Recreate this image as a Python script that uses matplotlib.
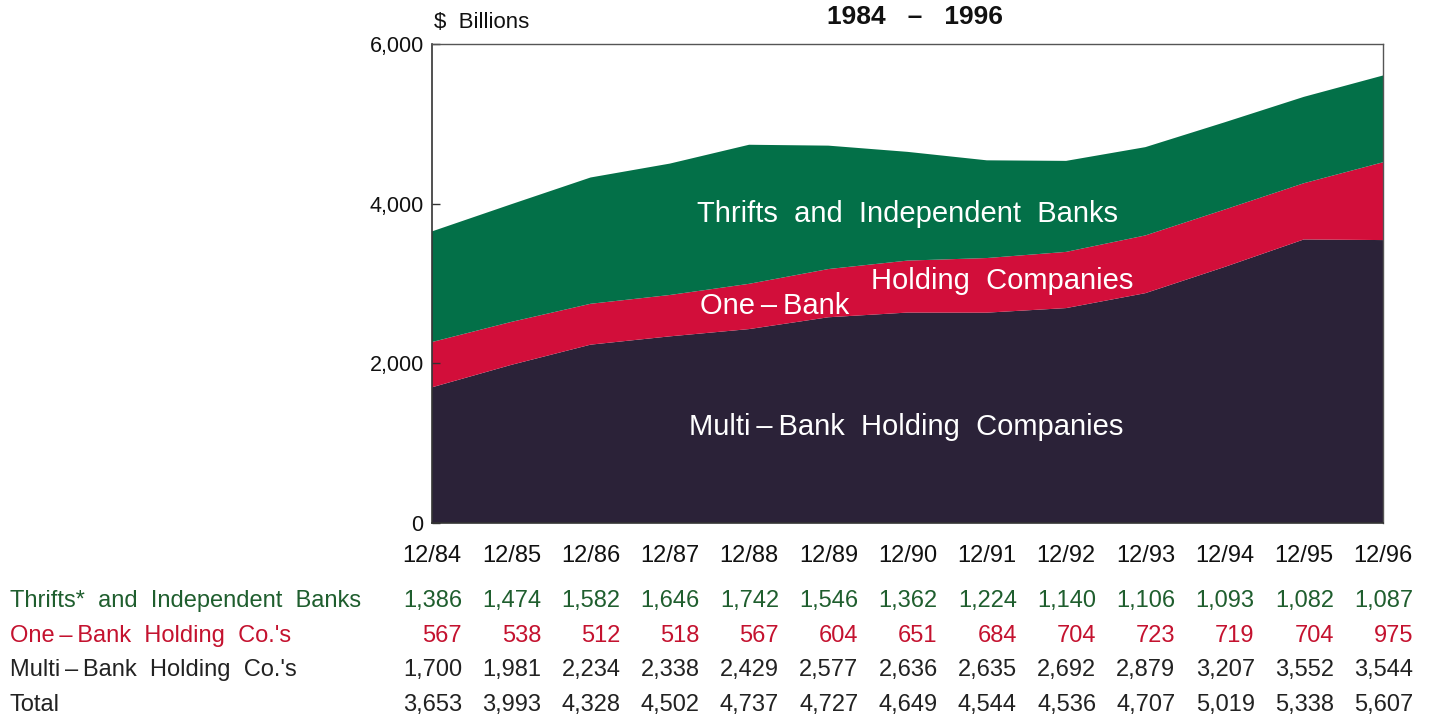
import numpy as np
import matplotlib.pyplot as plt
from matplotlib.transforms import blended_transform_factory

plt.rcParams['font.family'] = ['Liberation Sans', 'DejaVu Sans']

# Bank assets by type of organization, $ billions
periods = ["12/84", "12/85", "12/86", "12/87", "12/88", "12/89", "12/90",
           "12/91", "12/92", "12/93", "12/94", "12/95", "12/96"]
thrifts = [1386, 1474, 1582, 1646, 1742, 1546, 1362, 1224, 1140, 1106, 1093, 1082, 1087]
one_bank = [567, 538, 512, 518, 567, 604, 651, 684, 704, 723, 719, 704, 975]
multi_bank = [1700, 1981, 2234, 2338, 2429, 2577, 2636, 2635, 2692, 2879, 3207, 3552, 3544]
totals = [3653, 3993, 4328, 4502, 4737, 4727, 4649, 4544, 4536, 4707, 5019, 5338, 5607]

row_labels = ["Thrifts*  and  Independent  Banks", "One\u2009\u2013\u2009Bank  Holding  Co.'s",
              "Multi\u2009\u2013\u2009Bank  Holding  Co.'s", "Total"]

c_multi = "#2b2238"
c_one = "#d20e3a"
c_thrift = "#037048"
t_green = "#1f5e2e"
t_red = "#c4122f"
t_dark = "#222222"

fig = plt.figure(figsize=(14.34, 7.18), dpi=100)
ax = fig.add_axes([0.3013, 0.2716, 0.6632, 0.6671])

x = np.arange(len(periods))
ax.stackplot(x, multi_bank, one_bank, thrifts,
             colors=[c_multi, c_one, c_thrift], linewidth=0)

ax.set_xlim(0, len(periods) - 1)
ax.set_ylim(0, 6000)
ax.set_yticks([0, 2000, 4000, 6000])
ax.set_yticklabels(["0", "2,000", "4,000", "6,000"], fontsize=15.5)
ax.tick_params(axis='y', direction='in', length=6, width=1, pad=6, colors='#333333',
               labelcolor='#111111')
ax.set_xticks([])
for side in ['left', 'bottom']:
    ax.spines[side].set_color('#333333')
    ax.spines[side].set_linewidth(1.2)
for side in ['top', 'right']:
    ax.spines[side].set_color('#555555')
    ax.spines[side].set_linewidth(1.0)

# labels inside the areas
ax.text(6.0, 3870, "Thrifts  and  Independent  Banks", color='white', fontsize=21,
        ha='center', va='center')
ax.text(7.19, 3030, "Holding  Companies", color='white', fontsize=21,
        ha='center', va='center')
ax.text(4.32, 2720, "One\u2009\u2013\u2009Bank", color='white', fontsize=21,
        ha='center', va='center')
ax.text(5.98, 1200, "Multi\u2009\u2013\u2009Bank  Holding  Companies", color='white',
        fontsize=21, ha='center', va='center')

fig.text(434 / 1434, 1 - 22 / 718, "$  Billions", fontsize=16, ha='left', va='center',
         color='#111111')
fig.text(915 / 1434, 1 - 17 / 718, "1984   \u2013   1996", fontsize=19, fontweight='bold',
         ha='center', va='center', color='#111111')

# data table under the chart
trans = blended_transform_factory(ax.transData, fig.transFigure)
row_y = [1 - 601 / 718, 1 - 636 / 718, 1 - 670 / 718, 1 - 705 / 718]
row_colors = [t_green, t_red, t_dark, t_dark]
row_values = [thrifts, one_bank, multi_bank, totals]

for i, p in enumerate(periods):
    ax.text(i, 1 - 556 / 718, p, transform=trans, ha='center', va='center',
            fontsize=17, color='#111111', clip_on=False)

for label, yy, col, vals in zip(row_labels, row_y, row_colors, row_values):
    fig.text(10 / 1434, yy, label, ha='left', va='center', fontsize=17, color=col)
    for i, v in enumerate(vals):
        ax.text(i + 0.38, yy, f"{v:,}", transform=trans, ha='right', va='center',
                fontsize=17, color=col, clip_on=False)

fig.savefig("out.png", dpi=100)
